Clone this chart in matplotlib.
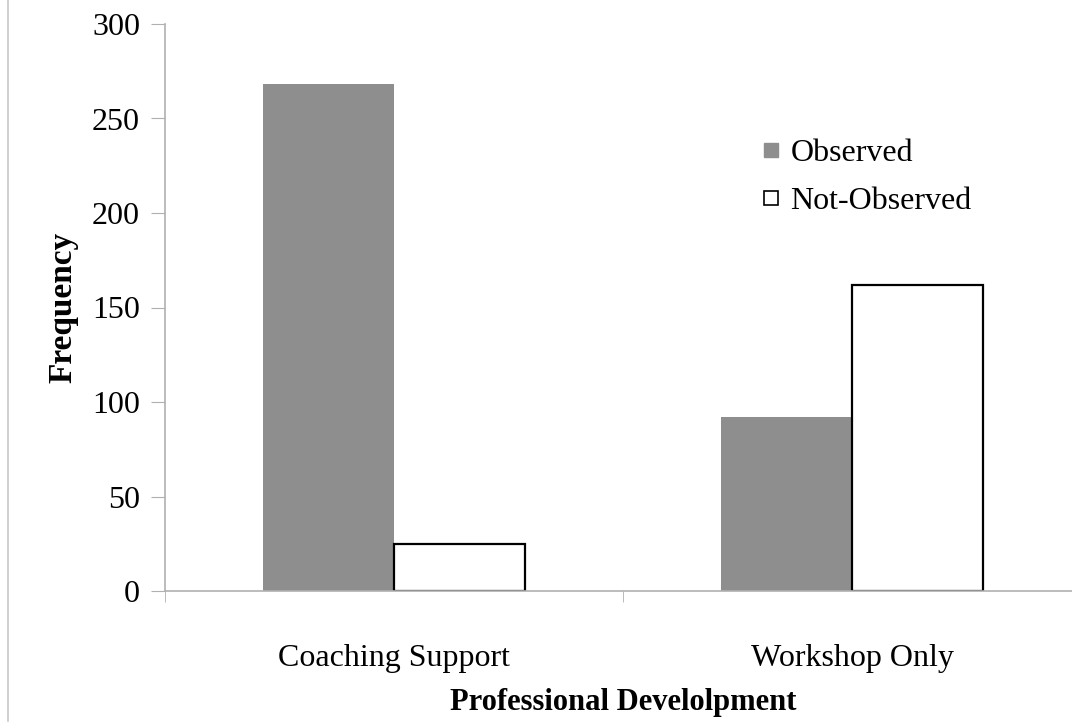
import matplotlib.pyplot as plt
import numpy as np
from matplotlib.lines import Line2D

categories = ["Coaching Support", "Workshop Only"]
observed = [268, 92]
not_observed = [25, 162]
yticks = [0, 50, 100, 150, 200, 250, 300]

plt.rcParams['font.family'] = ['Liberation Serif', 'DejaVu Serif']

fig = plt.figure(figsize=(10.72, 7.23), dpi=100)
# axes in pixels: left 165, right 1081, bottom 591, top 24
W, H = 1072, 723
ax = fig.add_axes([165 / W, (H - 591) / H, 916 / W, (591 - 24) / H])

x = np.arange(len(categories)) + 0.5
w = 0.285
ax.bar(x - w / 2, observed, w, color="#8e8e8e", edgecolor="none", label="Observed")
ax.bar(x + w / 2, not_observed, w, color="white", edgecolor="black", linewidth=1.6,
       label="Not-Observed")

ax.set_xlim(0, 2)
ax.set_ylim(0, 300)
ax.set_yticks(yticks)
ax.set_xticks(x)
ax.set_xticklabels(categories)
ax.set_xticks([0, 1, 2], minor=True)
ax.tick_params(axis='x', which='major', length=0, pad=38, labelsize=23)
ax.tick_params(axis='x', which='minor', length=8, color="#b0b0b0", direction='out')
ax.tick_params(axis='y', length=10, color="#b0b0b0", labelsize=23, pad=8)

for s in ["top", "right"]:
    ax.spines[s].set_visible(False)
for s in ["left", "bottom"]:
    ax.spines[s].set_color("#b0b0b0")
    ax.spines[s].set_linewidth(1.2)

ax.set_ylabel("Frequency", fontsize=24, fontweight="bold", labelpad=10)
ax.set_xlabel("Professional Develolpment", fontsize=22, fontweight="bold", labelpad=11)

handles = [
    Line2D([], [], marker='s', linestyle='none', markersize=10,
           markerfacecolor="#8e8e8e", markeredgecolor="#8e8e8e"),
    Line2D([], [], marker='s', linestyle='none', markersize=10,
           markerfacecolor="white", markeredgecolor="black", markeredgewidth=1.2),
]
ax.legend(handles, ["Observed", "Not-Observed"], frameon=False, fontsize=23,
          loc="upper left", bbox_to_anchor=(0.62, 0.849), handletextpad=0.3,
          labelspacing=0.6, handlelength=0.6)

# thin frame line at the far left of the image
fig.add_artist(Line2D([8 / W, 8 / W], [2 / H, 1], color="#c8c8c8", linewidth=1.2))

fig.savefig("out.png", dpi=100)
